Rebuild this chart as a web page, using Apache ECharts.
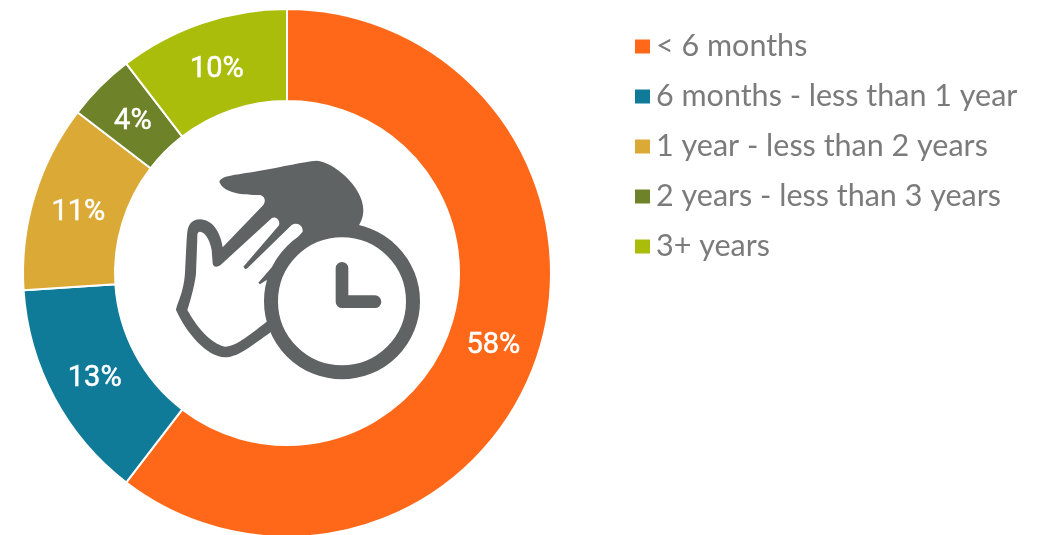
<!DOCTYPE html>
<html><head><meta charset="utf-8">
<style>html,body{margin:0;padding:0;background:#fff}#c{width:1045px;height:535px}</style>
<script src="https://cdn.jsdelivr.net/npm/echarts@6/dist/echarts.min.js"></script>
</head><body><div id="c"></div>
<script>
const categories = ['< 6 months','6 months - less than 1 year','1 year - less than 2 years','2 years - less than 3 years','3+ years'];
const percents = [58,13,11,4,10];
const colors = ['#FF6819','#0F7B99','#DBA935','#6E8229','#ABBD0B'];
const iconColor = '#5F6364';
const pieCenter = [287,273];
const handOuter = 'M120,238 C155,240 180,270 188,322 L310,195 C320,180 312,168 300,165 C250,165 190,160 178,125 C185,105 230,105 300,92 C370,80 430,65 470,62 C520,65 610,140 610,210 C610,235 600,250 595,260 L450,400 L330,578 C280,612 240,650 195,652 C140,650 80,580 48,510 C55,480 70,460 75,400 C78,340 80,290 82,275 C85,250 100,238 120,238 Z';
const handInner = 'M120,275 C135,275 150,300 155,330 L158,370 C160,385 175,382 185,372 L335,235 C345,228 358,238 358,250 C358,255 356,258 352,262 L250,380 L256,388 L262,385 L395,255 C410,245 430,255 428,275 L295,428 L300,433 L320,420 L345,520 L320,545 C280,575 230,620 195,620 C150,610 110,560 82,510 C95,470 105,430 108,400 C110,350 112,300 112,285 C112,280 115,275 120,275 Z';
echarts.graphic.registerShape('handOuter', echarts.graphic.extendPath(handOuter));
echarts.graphic.registerShape('handInner', echarts.graphic.extendPath(handInner));
const chart = echarts.init(document.getElementById('c'), null, {renderer:'canvas'});
chart.setOption({
  animation:false,
  legend:{
    orient:'vertical', left:630, top:26, icon:'rect',
    itemWidth:15, itemHeight:14, itemGap:19, selectedMode:false,
    itemStyle:{borderWidth:0},
    textStyle:{color:'#7b7b7b', fontFamily:'Lato', fontSize:30.5, lineHeight:31, padding:[0,0,0,1]},
    data:categories
  },
  series:[{
    type:'pie', center:pieCenter, radius:[172,264], startAngle:90, clockwise:true, silent:true,
    avoidLabelOverlap:false,
    itemStyle:{borderColor:'#fff', borderWidth:2},
    label:{show:true, position:'inside', formatter:'{c}%', color:'#fff', fontFamily:'Roboto', fontSize:29, fontWeight:'normal', textBorderColor:'#fff', textBorderWidth:0.5},
    labelLayout:function(p){
      const r = p.labelRect;
      const vx = r.x + r.width/2 - pieCenter[0], vy = r.y + r.height/2 - pieCenter[1];
      const len = Math.hypot(vx,vy) || 1;
      return {dx:-3*vx/len, dy:-3*vy/len + 3};
    },
    labelLine:{show:false},
    data:categories.map((n,i)=>({name:n,value:percents[i],itemStyle:{color:colors[i]}}))
  }],
  graphic:[{
    type:'group', x:160, y:140, scaleX:1/3, scaleY:1/3, silent:true,
    children:[
      {type:'handOuter', style:{fill:iconColor}},
      {type:'handInner', style:{fill:'#fff'}},
      {type:'circle', shape:{cx:546,cy:484,r:213}, style:{fill:'#fff',stroke:iconColor,lineWidth:42}},
      {type:'polyline', shape:{points:[[546,385],[546,485],[645,485]]}, style:{fill:'none',stroke:iconColor,lineWidth:38,lineCap:'round',lineJoin:'round'}}
    ]
  }]
});
</script></body></html>
